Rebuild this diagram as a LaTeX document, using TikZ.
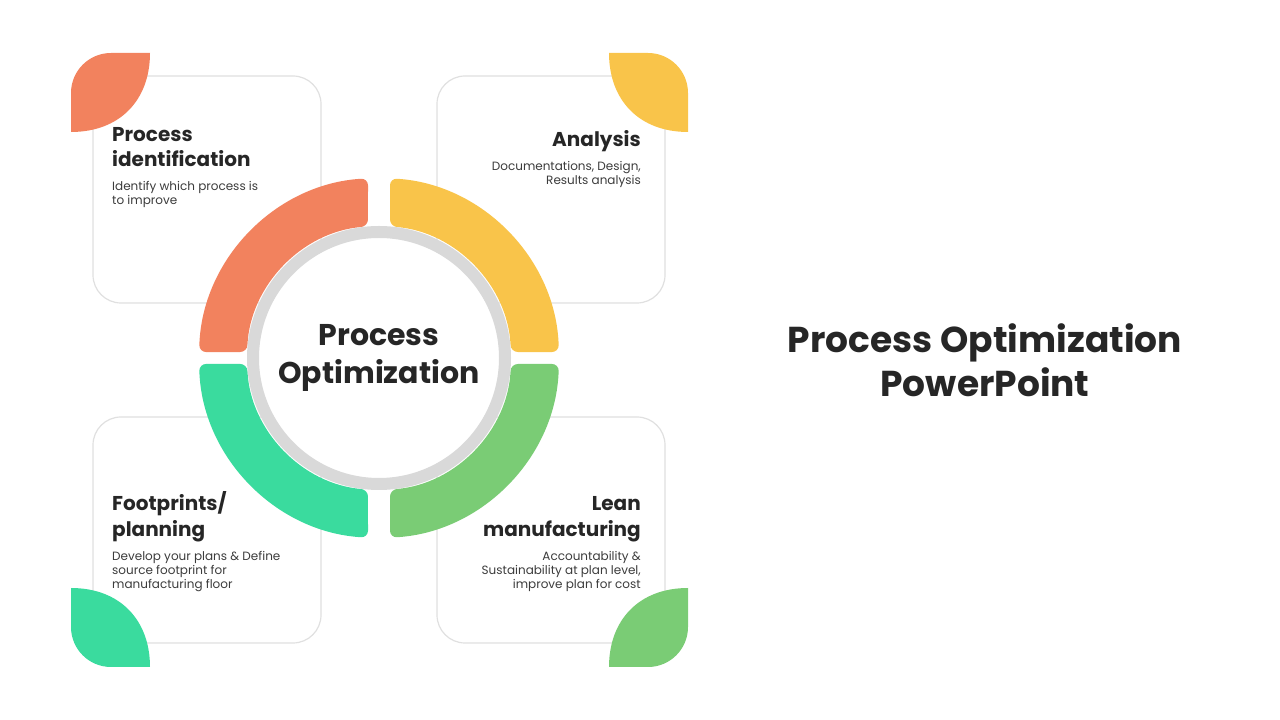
\documentclass[tikz,border=0pt]{standalone}
\usepackage{fontspec}
\setmainfont{Poppins}
\definecolor{cor}{HTML}{F2825E}
\definecolor{cye}{HTML}{F9C44A}
\definecolor{cte}{HTML}{3ADB9E}
\definecolor{cgr}{HTML}{7ACC75}
\definecolor{ctx}{HTML}{262626}
\begin{document}
\begin{tikzpicture}[x=1pt,y=1pt,
  card/.style={fill=white,draw=black!12,line width=1.2pt,rounded corners=28pt},
  ttl/.style={font=\fontsize{20}{25}\selectfont\bfseries,text=ctx,inner sep=0pt},
  bdy/.style={font=\fontsize{12}{14}\selectfont,text=ctx!90,inner sep=0pt},
  seg/.style={rounded corners=7pt}]
\useasboundingbox (0,0) rectangle (1280,720);
% cards (y = 720 - pixel y)
\draw[card] (93,644) rectangle (321,417) ;
\draw[card] (437,644) rectangle (665,417);
\draw[card] (93,303) rectangle (321,77);
\draw[card] (437,303) rectangle (665,77);
% leaves
\fill[cor] (71,588) -- (71,627) arc[start angle=180,end angle=90,radius=40] -- (150,667) .. controls (150,620) and (120,588) .. (71,588) -- cycle;
\fill[cye] (688,588) -- (688,627) arc[start angle=0,end angle=90,radius=40] -- (609,667) .. controls (609,620) and (639,588) .. (688,588) -- cycle;
\fill[cte] (71,132) -- (71,93) arc[start angle=180,end angle=270,radius=40] -- (150,53) .. controls (150,100) and (120,132) .. (71,132) -- cycle;
\fill[cgr] (688,132) -- (688,93) arc[start angle=0,end angle=-90,radius=40] -- (609,53) .. controls (609,100) and (639,132) .. (688,132) -- cycle;
% segments
\coordinate (c) at (379,362);
\fill[cor,seg] ([shift={(93.5:180)}]c) arc[start angle=93.5,end angle=178.1,radius=180] -- ([shift={(177.4:132)}]c) arc[start angle=177.4,end angle=94.8,radius=132] -- cycle;
\fill[cye,seg] ([shift={(1.9:180)}]c) arc[start angle=1.9,end angle=86.5,radius=180] -- ([shift={(85.2:132)}]c) arc[start angle=85.2,end angle=2.6,radius=132] -- cycle;
\fill[cte,seg] ([shift={(181.9:180)}]c) arc[start angle=181.9,end angle=266.5,radius=180] -- ([shift={(265.2:132)}]c) arc[start angle=265.2,end angle=182.6,radius=132] -- cycle;
\fill[cgr,seg] ([shift={(273.5:180)}]c) arc[start angle=273.5,end angle=358.1,radius=180] -- ([shift={(357.4:132)}]c) arc[start angle=357.4,end angle=274.8,radius=132] -- cycle;
\draw[black!15,line width=12pt,fill=white] (c) circle[radius=126];
\node[font=\fontsize{30}{38}\selectfont\bfseries,text=ctx,align=center] (center) at (c) {Process\\Optimization};
% texts
\node[ttl,anchor=base west,align=left] (t1) at (112,578) {Process};
\node[ttl,anchor=base west] (t1b) at (112,553) {identification};
\node[bdy,anchor=north west,align=left] (b1) at (112,539) {Identify which process is\\to improve};
\node[ttl,anchor=base east] (t2) at (641,573) {Analysis};
\node[bdy,anchor=north east,align=right] (b2) at (641,559) {Documentations, Design,\\Results analysis};
\node[ttl,anchor=base west] (t3) at (112,209) {Footprints/};
\node[ttl,anchor=base west] (t3b) at (112,183) {planning};
\node[bdy,anchor=north west,align=left] (b3) at (112,169) {Develop your plans \& Define\\source footprint for\\manufacturing floor};
\node[ttl,anchor=base east] (t4) at (641,209) {Lean};
\node[ttl,anchor=base east] (t4b) at (641,183) {manufacturing};
\node[bdy,anchor=north east,align=right] (b4) at (641,169) {Accountability \&\\Sustainability at plan level,\\improve plan for cost};
\node[font=\fontsize{36}{44}\selectfont\bfseries,text=ctx,align=center] (title) at (985,360) {Process Optimization\\PowerPoint};
\end{tikzpicture}
\end{document}
